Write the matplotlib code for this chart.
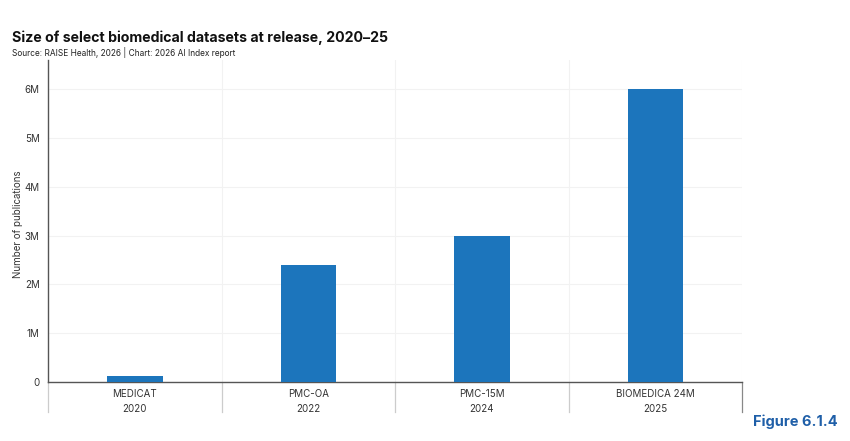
import numpy as np
import matplotlib
matplotlib.use("Agg")
import matplotlib.pyplot as plt

plt.rcParams['font.family'] = ['Inter', 'DejaVu Sans']

datasets = ['MEDICAT', 'PMC-OA', 'PMC-15M', 'BIOMEDICA 24M']
years = ['2020', '2022', '2024', '2025']
publications = [0.12e6, 2.4e6, 3.0e6, 6.0e6]
ytick_vals = [0, 1e6, 2e6, 3e6, 4e6, 5e6, 6e6]
ytick_labels = ['0', '1M', '2M', '3M', '4M', '5M', '6M']

fig = plt.figure(figsize=(8.5, 4.41), dpi=100)
ax = fig.add_axes([0.0565, 0.134, 0.8165, 0.73])

x = np.arange(len(datasets))
ax.bar(x, publications, width=0.32, color='#1c75bc', zorder=3)

ax.set_xlim(-0.5, len(datasets) - 0.5)
ax.set_ylim(0, 6.6e6)
ax.set_yticks(ytick_vals)
ax.set_yticklabels(ytick_labels, fontsize=7, color='#333333')
ax.set_xticks(x)
ax.set_xticklabels([d + '\n' + y for d, y in zip(datasets, years)],
                   fontsize=7, color='#333333', linespacing=1.7)
ax.tick_params(axis='both', length=0, pad=6)
ax.tick_params(axis='x', pad=5)

ax.grid(axis='y', color='#f2f2f2', linewidth=0.8, zorder=0)
for b in np.arange(-0.5, len(datasets), 1.0)[1:]:
    ax.axvline(b, color='#f2f2f2', linewidth=0.8, zorder=0)

for s in ['top', 'right']:
    ax.spines[s].set_visible(False)
ax.spines['left'].set_color('#555555')
ax.spines['bottom'].set_color('#555555')
ax.spines['left'].set_linewidth(1.0)
ax.spines['bottom'].set_linewidth(1.0)

# separators under the category axis
for i, b in enumerate(np.arange(-0.5, len(datasets), 1.0)):
    col = '#888888' if i == len(datasets) else '#cccccc'
    ax.plot([b, b], [0, -0.095], transform=ax.get_xaxis_transform(),
            color=col, linewidth=0.9, clip_on=False)

ax.set_ylabel('Number of publications', fontsize=7, color='#333333')
ax.yaxis.set_label_coords(-0.036, 0.49)

fig.text(0.014, 0.905, 'Size of select biomedical datasets at release, 2020–25',
         fontsize=10.2, fontweight='bold', color='#111111')
fig.text(0.014, 0.873, 'Source: RAISE Health, 2026 | Chart: 2026 AI Index report',
         fontsize=6, color='#222222')
fig.text(0.986, 0.035, 'Figure 6.1.4', fontsize=10.5, fontweight='bold',
         color='#1f5fa8', ha='right')

fig.savefig('out.png', dpi=100)
